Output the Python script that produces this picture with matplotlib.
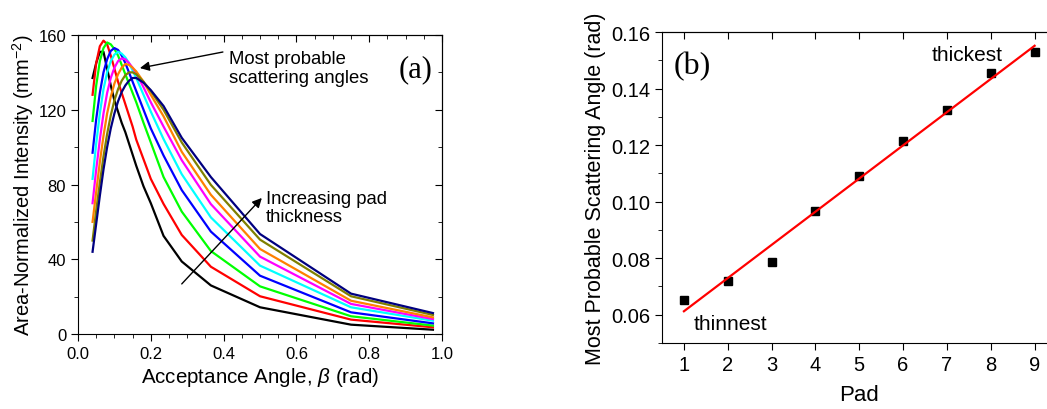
import numpy as np
import matplotlib
matplotlib.use("Agg")
import matplotlib.pyplot as plt
from matplotlib.ticker import MultipleLocator, NullFormatter, FormatStrFormatter

plt.rcParams['font.family'] = ['Liberation Sans', 'DejaVu Sans']
plt.rcParams['mathtext.fontset'] = 'custom'
plt.rcParams['mathtext.rm'] = 'Liberation Sans'
plt.rcParams['mathtext.it'] = 'Liberation Sans:italic'

# (a) acceptance angle (rad)
beta = [0.04, 0.05, 0.06, 0.07, 0.08, 0.09, 0.10, 0.11, 0.12, 0.13, 0.14,
        0.15, 0.16, 0.18, 0.20, 0.235, 0.285, 0.365, 0.5, 0.75, 0.975]

# area-normalized intensity for pads 1 (thinnest) .. 9 (thickest)
pad1 = [137, 145, 151, 151, 142, 133, 125, 119, 113, 108, 102, 96, 90, 79, 70, 52.5, 38.8, 26, 14.3, 5.0, 2.3]
pad2 = [128, 145, 154, 157, 155, 149, 142, 135, 129, 123, 117, 111, 104, 93.5, 83, 69.6, 53, 36, 20.2, 7.7, 3.6]
pad3 = [114, 133, 146, 153, 156, 155, 152.5, 149, 144, 139, 134, 129, 124, 113, 102.5, 84, 65.5, 44.4, 25.5, 9.5, 4.5]
pad4 = [97, 115, 129, 140, 147, 151.5, 153, 152, 149, 145, 140, 135, 130, 120, 110, 95.5, 77, 54.8, 31.2, 11.6, 5.7]
pad5 = [83, 102, 118, 131, 140, 146, 149.5, 151, 150, 148, 145, 141, 137, 128, 119, 104.3, 85.5, 62.4, 36.6, 14.3, 7.1]
pad6 = [70, 88, 104, 118, 129, 137, 142.5, 146, 147.5, 147, 145, 142.5, 139.5, 132, 124, 111, 93, 69.5, 41.4, 16.1, 8.0]
pad7 = [60, 76, 92, 106, 118, 127, 134, 139, 142.5, 144.5, 144, 142.5, 140.5, 135, 128, 116.5, 97.5, 74.5, 45.5, 17.8, 8.9]
pad8 = [50, 66, 81, 95, 107, 117, 125, 131, 135.5, 138.5, 140, 140, 139, 135, 130, 120, 102.5, 79.8, 50.5, 20.2, 10.2]
pad9 = [44, 59, 74, 88, 100, 110, 118, 124.5, 129.5, 133, 135.5, 137, 137, 134.5, 130.5, 122, 105, 84, 53.5, 21.6, 11.2]

curves = [pad1, pad2, pad3, pad4, pad5, pad6, pad7, pad8, pad9]
colors = ['#000000', '#ff0000', '#00ff00', '#0000ff', '#00ffff',
          '#ff00ff', '#ff8000', '#808000', '#000080']

# (b) most probable scattering angle per pad
pads = [1, 2, 3, 4, 5, 6, 7, 8, 9]
mpsa = [0.0651, 0.0718, 0.0786, 0.0967, 0.1092, 0.1215, 0.1324, 0.1455, 0.1528]

fig = plt.figure(figsize=(10.47, 4.10), dpi=100)

# ---- panel (a)
ax1 = fig.add_axes([0.0745, 0.1829, 0.3477, 0.7293])
for y, c in zip(curves, colors):
    ax1.plot(beta, y, color=c, lw=1.6)
ax1.set_xlim(0, 1.0)
ax1.set_ylim(0, 160)
ax1.xaxis.set_major_locator(MultipleLocator(0.2))
ax1.xaxis.set_minor_locator(MultipleLocator(0.05))
ax1.yaxis.set_major_locator(MultipleLocator(40))
ax1.yaxis.set_minor_locator(MultipleLocator(20))
ax1.xaxis.set_major_formatter(FormatStrFormatter('%.1f'))
ax1.tick_params(which='major', direction='out', length=5, labelsize=12)
ax1.tick_params(which='minor', direction='out', length=3)

# inward ticks on top and right
top1 = ax1.secondary_xaxis('top')
top1.xaxis.set_major_locator(MultipleLocator(0.2))
top1.xaxis.set_minor_locator(MultipleLocator(0.05))
top1.xaxis.set_major_formatter(NullFormatter())
top1.tick_params(which='major', direction='in', length=5)
top1.tick_params(which='minor', direction='in', length=3)
right1 = ax1.secondary_yaxis('right')
right1.yaxis.set_major_locator(MultipleLocator(40))
right1.yaxis.set_minor_locator(MultipleLocator(20))
right1.yaxis.set_major_formatter(NullFormatter())
right1.tick_params(which='major', direction='in', length=5)
right1.tick_params(which='minor', direction='in', length=3)

ax1.set_xlabel(r'Acceptance Angle, $\beta$ (rad)', fontsize=14.8, labelpad=3)
ax1.set_ylabel('Area-Normalized Intensity (mm$^{-2}$)', fontsize=14.5, labelpad=2)

ax1.annotate('', xy=(0.170, 142.3), xytext=(0.398, 150.9),
             arrowprops=dict(arrowstyle='-|>', color='k', lw=1, mutation_scale=14,
                             shrinkA=0, shrinkB=0))
ax1.text(0.415, 142.3, 'Most probable\nscattering angles', fontsize=13.3,
         va='center', ha='left', linespacing=1.15)
ax1.annotate('', xy=(0.505, 72.8), xytext=(0.285, 26.8),
             arrowprops=dict(arrowstyle='-|>', color='k', lw=1, mutation_scale=14,
                             shrinkA=0, shrinkB=0))
ax1.text(0.516, 67.7, 'Increasing pad\nthickness', fontsize=13.3, va='center', ha='left',
         linespacing=1.15)
ax1.text(0.926, 142, '(a)', fontsize=22, ha='center', va='center',
         family='Liberation Serif')

# ---- panel (b)
ax2 = fig.add_axes([0.6323, 0.161, 0.3768, 0.7585])
ax2.plot(pads, mpsa, 's', color='k', ms=6)
fit = np.polyfit(pads, mpsa, 1)
xf = np.array([pads[0], pads[-1]])
ax2.plot(xf, np.polyval(fit, xf), color='#ff0000', lw=1.6)
ax2.set_xlim(0.5, 9.5)
ax2.set_ylim(0.05, 0.16)
ax2.set_xticks(pads)
ax2.yaxis.set_major_locator(MultipleLocator(0.02))
ax2.yaxis.set_minor_locator(MultipleLocator(0.01))
ax2.yaxis.set_major_formatter(FormatStrFormatter('%.2f'))
ax2.tick_params(which='major', direction='out', length=5, labelsize=14.5)
ax2.tick_params(which='minor', direction='out', length=3)
top2 = ax2.secondary_xaxis('top')
top2.set_xticks(pads)
top2.xaxis.set_major_formatter(NullFormatter())
top2.tick_params(which='major', direction='in', length=5)
ax2.set_xlabel('Pad', fontsize=16, labelpad=7)
ax2.set_ylabel('Most Probable Scattering Angle (rad)', fontsize=15.5, labelpad=4)
ax2.text(1.2, 0.148, '(b)', fontsize=23, ha='center', va='center',
         family='Liberation Serif')
ax2.text(7.46, 0.1522, 'thickest', fontsize=15, ha='center', va='center')
ax2.text(2.07, 0.0568, 'thinnest', fontsize=15, ha='center', va='center')

fig.savefig('out.png', dpi=100)
